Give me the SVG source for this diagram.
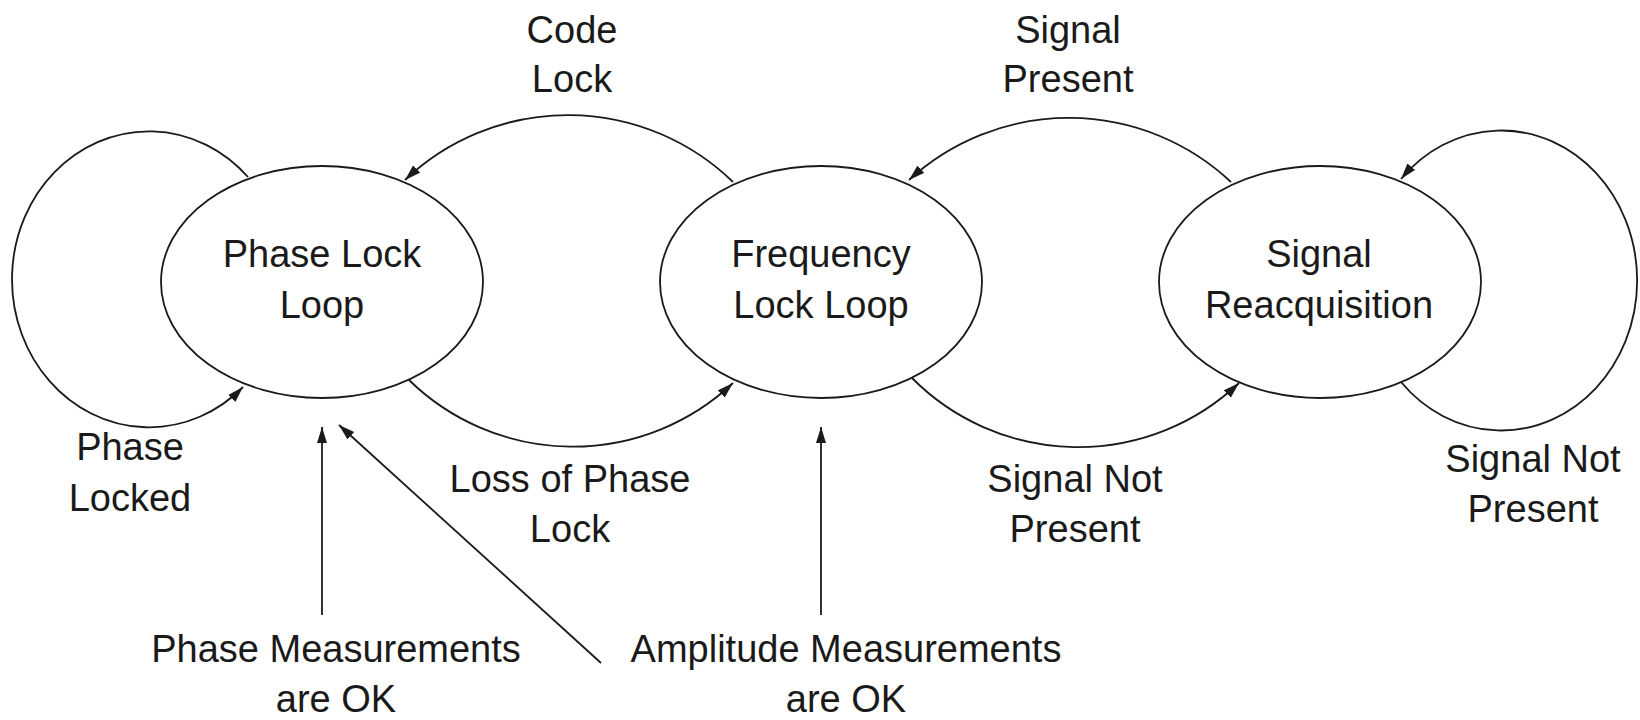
<svg xmlns="http://www.w3.org/2000/svg" width="1640" height="720" viewBox="0 0 1640 720">
  <style>
    .state { fill: #ffffff; stroke: #1a1a1a; stroke-width: 1.8; }
    .edge { fill: none; stroke: #1a1a1a; stroke-width: 1.8; marker-end: url(#arrow); }
    text { font-family: "Liberation Sans", Arial, sans-serif; font-size: 38px; fill: #1a1a1a; text-anchor: middle; }
  </style>
  <defs>
    <marker id="arrow" markerUnits="userSpaceOnUse" markerWidth="18" markerHeight="12" refX="16" refY="5.5" orient="auto">
      <path d="M0,0.5 L16,5.5 L0,10.5 z" fill="#1a1a1a"/>
    </marker>
  </defs>

  <rect width="1640" height="720" fill="#ffffff"/>

  <!-- transitions -->
  <g id="connectors">
    <!-- Phase Locked self-loop -->
    <path class="edge" d="M248,177 A137,148 0 1 0 243,387"/>
    <!-- Code Lock: FLL -> PLL -->
    <path class="edge" d="M733,182 A237,237 0 0 0 405,180"/>
    <!-- Loss of Phase Lock: PLL -> FLL -->
    <path class="edge" d="M409,380 A234,234 0 0 0 733,383"/>
    <!-- Signal Present: SR -> FLL -->
    <path class="edge" d="M1231,182 A237,237 0 0 0 909,180"/>
    <!-- Signal Not Present: FLL -> SR -->
    <path class="edge" d="M912,378 A234,234 0 0 0 1239,383"/>
    <!-- Signal Not Present self-loop -->
    <path class="edge" d="M1401,382 A136,150 0 1 0 1401,179"/>
    <!-- measurement inputs -->
    <path class="edge" d="M322,615 L322,427"/>
    <path class="edge" d="M601,663 L339,425"/>
    <path class="edge" d="M821,615 L821,427"/>
  </g>

  <g id="node-pll">
    <ellipse class="state" cx="322" cy="282" rx="161" ry="116"/>
    <text x="322" y="267">Phase Lock</text>
    <text x="322" y="318">Loop</text>
  </g>

  <g id="node-fll">
    <ellipse class="state" cx="821" cy="282" rx="161" ry="116"/>
    <text x="821" y="267">Frequency</text>
    <text x="821" y="318">Lock Loop</text>
  </g>

  <g id="node-reacq">
    <ellipse class="state" cx="1320" cy="282" rx="161" ry="116"/>
    <text x="1319" y="267">Signal</text>
    <text x="1319" y="318">Reacquisition</text>
  </g>

  <g id="labels">
    <text x="572" y="43">Code</text>
    <text x="572" y="92">Lock</text>
    <text x="1068" y="43">Signal</text>
    <text x="1068" y="92">Present</text>
    <text x="130" y="460">Phase</text>
    <text x="130" y="511">Locked</text>
    <text x="570" y="492">Loss of Phase</text>
    <text x="570" y="542">Lock</text>
    <text x="1075" y="492">Signal Not</text>
    <text x="1075" y="542">Present</text>
    <text x="1533" y="472">Signal Not</text>
    <text x="1533" y="522">Present</text>
    <text x="336" y="662">Phase Measurements</text>
    <text x="336" y="712">are OK</text>
    <text x="846" y="662">Amplitude Measurements</text>
    <text x="846" y="712">are OK</text>
  </g>
</svg>
